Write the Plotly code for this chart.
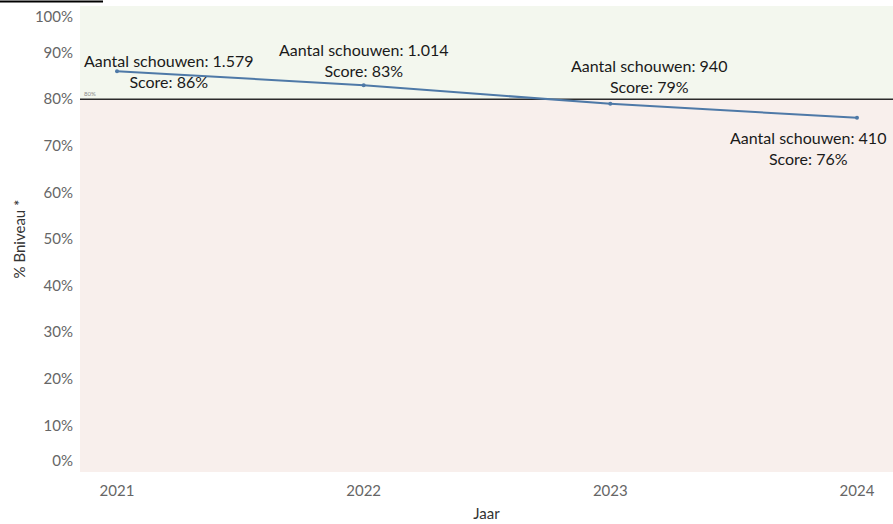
import plotly.graph_objects as go

years = [2021, 2022, 2023, 2024]
scores = [86, 83, 79, 76]
inspections = ["1.579", "1.014", "940", "410"]
score_labels = ["86%", "83%", "79%", "76%"]
threshold = 80
y_ticks = [0, 10, 20, 30, 40, 50, 60, 70, 80, 90, 100]
y_tick_text = [f"{v}%" for v in y_ticks]

# label placement (pixels) relative to each point
label_shift_x = [51, 0, 39, 31]
label_shift_y = [0, 25, 28, -30]
label_anchor = ["center", "center", "center", "right"]

# like the original tool, keep the edge tick labels inside the plot height
EDGE_INSET = 2.4
tick_pos = [v + EDGE_INSET if v == 0 else v - EDGE_INSET if v == 100 else v for v in y_ticks]

FONT = "Lato"
fig = go.Figure()

fig.add_trace(go.Scatter(
    x=years, y=scores, mode="lines+markers",
    line=dict(color="#4e79a7", width=2),
    marker=dict(color="#4e79a7", size=4),
    hoverinfo="skip", showlegend=False,
))

# background bands
fig.add_shape(type="rect", xref="paper", yref="y", x0=0, x1=1, y0=threshold, y1=100,
              fillcolor="#f3f7ee", line_width=0, layer="below")
fig.add_shape(type="rect", xref="paper", yref="y", x0=0, x1=1, y0=0, y1=threshold,
              fillcolor="#f8efec", line_width=0, layer="below")
# threshold line
fig.add_shape(type="line", xref="paper", yref="y", x0=0, x1=1, y0=threshold, y1=threshold,
              line=dict(color="#2b2b2b", width=1.5), layer="below")
fig.add_annotation(xref="paper", yref="y", x=0.003, y=threshold, text=f"{threshold}%",
                   showarrow=False, xanchor="left", yanchor="bottom",
                   font=dict(family=FONT, size=6, color="#888888"))

# top-left remnant title underline
fig.add_shape(type="line", xref="paper", yref="paper", x0=-0.0984, x1=0.0283,
              y0=1.0097, y1=1.0097, line=dict(color="#000000", width=2))

for yr, sc, n, sl, dx, dy, anc in zip(years, scores, inspections, score_labels,
                                      label_shift_x, label_shift_y, label_anchor):
    fig.add_annotation(x=yr, y=sc, text=f"Aantal schouwen: {n}<br>Score: {sl}",
                       showarrow=False, xanchor=anc, yanchor="middle",
                       xshift=dx, yshift=dy, align="center",
                       font=dict(family=FONT, size=16, color="#1a1a1a"))

fig.update_layout(
    width=893, height=524,
    margin=dict(l=80, r=0, t=6, b=52, autoexpand=False),
    paper_bgcolor="white", plot_bgcolor="white",
    font=dict(family=FONT, color="#666666"),
    xaxis=dict(range=[2020.85, 2024.146], tickvals=years, ticktext=[str(y) for y in years],
               showgrid=False, zeroline=False, showline=False, automargin=False,
               tickfont=dict(size=15, color="#666666"), ticklabelstandoff=8,
               title=dict(text="Jaar", font=dict(size=15, color="#333333"), standoff=10)),
    yaxis=dict(range=[0, 100], tickvals=tick_pos, ticktext=y_tick_text,
               showgrid=False, zeroline=False, showline=False, automargin=False,
               ticklabeloverflow="allow",
               tickfont=dict(size=15, color="#666666"), ticklabelstandoff=6,
               title=dict(text="% Bniveau *", font=dict(size=15, color="#333333"), standoff=5)),
)

fig.write_html("out.html", config={"displayModeBar": False},
               post_script="document.body.style.margin='0';")
